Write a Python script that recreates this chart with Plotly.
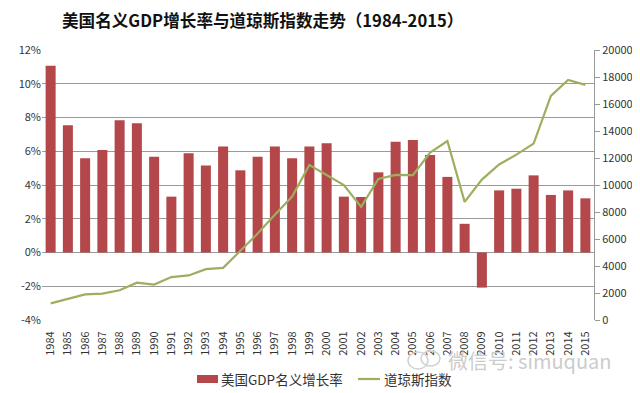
import plotly.graph_objects as go

years = [str(y) for y in range(1984, 2016)]
gdp_growth = [11.07, 7.54, 5.58, 6.08, 7.84, 7.66, 5.68, 3.31, 5.88, 5.15, 6.28, 4.87,
              5.68, 6.28, 5.58, 6.28, 6.48, 3.31, 3.29, 4.75, 6.57, 6.67, 5.78, 4.48,
              1.70, -2.08, 3.68, 3.78, 4.57, 3.41, 3.68, 3.21]
dow = [1230, 1560, 1900, 1950, 2200, 2760, 2620, 3180, 3300, 3770, 3860, 5130,
       6400, 7800, 9150, 11480, 10760, 10000, 8380, 10450, 10750, 10730, 12400, 13260,
       8750, 10400, 11520, 12250, 13070, 16600, 17780, 17420]

left_ticks = [-4, -2, 0, 2, 4, 6, 8, 10, 12]
right_ticks = list(range(0, 20001, 2000))

FONT = "Noto Sans CJK SC"
BAR_COLOR = "#B3474A"
LINE_COLOR = "#9DAF5E"

# page body has an 8px margin; size the figure so it ends at the window edge
OFF = 8
W, H = 640 - OFF, 393 - OFF
# plot area in window pixels: x 42..594, y 50..320
L, R, T, B = 42 - OFF, 640 - 594, 50 - OFF, 393 - 320
PW, PH = W - L - R, H - T - B


def px_x(x):  # window pixel -> paper coord
    return (x - OFF - L) / PW


def px_y(y):
    return (H - B - (y - OFF)) / PH


fig = go.Figure()
fig.add_trace(go.Bar(
    x=years, y=gdp_growth, name="美国GDP名义增长率",
    marker=dict(color=BAR_COLOR, line=dict(width=0)),
    yaxis="y", showlegend=False,
))
fig.add_trace(go.Scatter(
    x=years, y=dow, name="道琼斯指数", mode="lines",
    line=dict(color=LINE_COLOR, width=2.2),
    yaxis="y2", showlegend=False,
))

fig.update_layout(
    width=W, height=H,
    margin=dict(l=L, r=R, t=T, b=B, autoexpand=False),
    paper_bgcolor="#ffffff", plot_bgcolor="#ffffff",
    font=dict(family=FONT, size=11, color="#333333"),
    title=dict(text="<b>美国名义GDP增长率与道琼斯指数走势（1984-2015）</b>",
               x=(62 - OFF) / W, xanchor="left", y=1 - (21 - OFF) / H, yanchor="middle",
               font=dict(family=FONT, size=16.6, color="#111111")),
    bargap=0.42,
    showlegend=False,
    xaxis=dict(type="category", tickangle=-90, tickfont=dict(size=11, color="#333333"),
               showgrid=False, showline=False, ticks="outside", ticklen=6,
               tickcolor="rgba(0,0,0,0)", automargin=False),
    yaxis=dict(range=[-4, 12], tickvals=left_ticks, ticktext=[f"{v}%" for v in left_ticks],
               showgrid=True, gridcolor="#9a9a9a", gridwidth=1, zeroline=False,
               showline=False, ticks="", tickfont=dict(size=11, color="#333333"),
               automargin=False),
    yaxis2=dict(range=[0, 20000], tickvals=right_ticks, ticktext=[str(v) for v in right_ticks],
                overlaying="y", side="right",
                showgrid=False, zeroline=False, showline=True, linecolor="#9a9a9a",
                ticks="outside", ticklen=5, tickcolor="#9a9a9a",
                tickfont=dict(size=11, color="#333333"), automargin=False),
)

# custom legend
fig.add_shape(type="rect", xref="paper", yref="paper",
              x0=px_x(197), x1=px_x(218), y0=px_y(383), y1=px_y(375),
              fillcolor=BAR_COLOR, line=dict(width=0))
fig.add_annotation(text="美国GDP名义增长率", xref="paper", yref="paper",
                   x=px_x(219), xanchor="left", y=px_y(379), yanchor="middle",
                   showarrow=False, font=dict(family=FONT, size=13.5, color="#333333"))
fig.add_shape(type="line", xref="paper", yref="paper",
              x0=px_x(358), x1=px_x(380), y0=px_y(379), y1=px_y(379),
              line=dict(color=LINE_COLOR, width=2.2))
fig.add_annotation(text="道琼斯指数", xref="paper", yref="paper",
                   x=px_x(382), xanchor="left", y=px_y(379), yanchor="middle",
                   showarrow=False, font=dict(family=FONT, size=13.5, color="#333333"))

# watermark
fig.add_shape(type="circle", xref="paper", yref="paper",
              x0=px_x(408), x1=px_x(428), y0=px_y(369), y1=px_y(352),
              line=dict(color="#d2d2d2", width=1.5))
fig.add_shape(type="circle", xref="paper", yref="paper",
              x0=px_x(421), x1=px_x(440), y0=px_y(366), y1=px_y(351),
              line=dict(color="#d2d2d2", width=1.5))
fig.add_annotation(text="微信号: simuquan", xref="paper", yref="paper",
                   x=px_x(446), xanchor="left", y=px_y(360), yanchor="middle",
                   showarrow=False, font=dict(family=FONT, size=20, color="#cccccc"))

fig.write_html("out.html")
